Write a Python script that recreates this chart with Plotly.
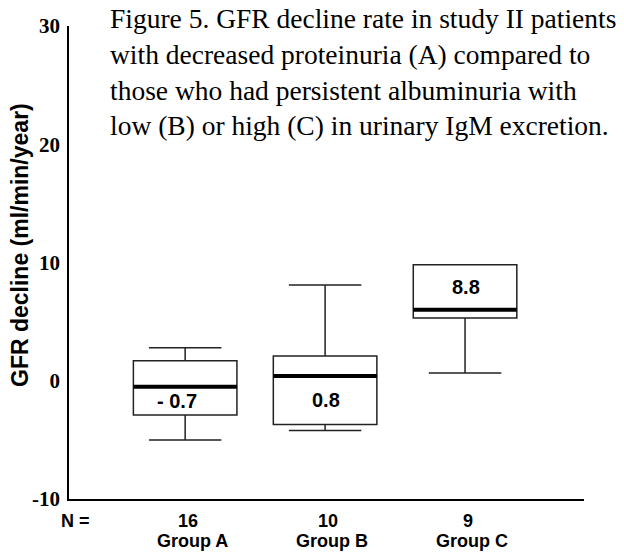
import plotly.graph_objects as go

# ---- data ----
groups = ["Group A", "Group B", "Group C"]
n_counts = ["16", "10", "9"]
lower_whisker = [-5.0, -4.2, 0.65]
q1 = [-2.9, -3.7, 5.3]
median = [-0.5, 0.4, 6.0]
q3 = [1.7, 2.1, 9.8]
upper_whisker = [2.8, 8.1, 9.8]
mean_labels = ["- 0.7", "0.8", "8.8"]
y_ticks = [-10, 0, 10, 20, 30]

W, H = 624, 552
ML, MR, MT, MB = 69, 40, 26, 53
PW, PH = W - ML - MR, H - MT - MB

def px_x(px):
    return (px - ML) / PW

def px_y(py):
    return (H - MB - py) / PH

xs = list(range(len(groups)))
box_w = 0.74
SANS = "Arial, Liberation Sans"
SERIF = "Liberation Serif, Times New Roman"

fig = go.Figure()
fig.add_trace(go.Box(
    x=xs, q1=q1, median=median, q3=q3,
    lowerfence=lower_whisker, upperfence=upper_whisker,
    width=box_w, whiskerwidth=0.7,
    fillcolor="white", line=dict(color="#222222", width=1.5),
    boxpoints=False, showlegend=False, hoverinfo="skip",
))
# thick median bars
for i in xs:
    fig.add_trace(go.Scatter(
        x=[i - box_w / 2, i + box_w / 2], y=[median[i], median[i]],
        mode="lines", line=dict(color="black", width=4),
        showlegend=False, hoverinfo="skip",
    ))

ann = []
# labels inside boxes, centered in the larger half of each box
for i in xs:
    upper = q3[i] - median[i]
    lower = median[i] - q1[i]
    ly = (median[i] + q1[i]) / 2 if lower > upper else (median[i] + q3[i]) / 2
    ann.append(dict(x=i, y=ly, xref="x", yref="y", text=mean_labels[i],
                    showarrow=False, xshift=-8 if i == 0 else 1,
                    xanchor="center", yanchor="middle",
                    font=dict(family=SANS, size=20, color="black", weight="bold")))
# N counts and group names
for i in xs:
    ann.append(dict(x=i, y=px_y(521), xref="x", yref="paper", text=n_counts[i],
                    showarrow=False, xshift=3, xanchor="center", yanchor="middle",
                    font=dict(family=SANS, size=18, color="black", weight="bold")))
    ann.append(dict(x=i, y=px_y(541), xref="x", yref="paper", text=groups[i],
                    showarrow=False, xshift=7, xanchor="center", yanchor="middle",
                    font=dict(family=SANS, size=18, color="black", weight="bold")))
ann.append(dict(x=px_x(75), y=px_y(521), xref="paper", yref="paper", text="N =",
                showarrow=False, xanchor="center", yanchor="middle",
                font=dict(family=SANS, size=18, color="black", weight="bold")))
# y-axis title
ann.append(dict(x=px_x(20), y=px_y(245), xref="paper", yref="paper",
                text="GFR decline (ml/min/year)", textangle=-90, showarrow=False,
                xanchor="center", yanchor="middle",
                font=dict(family=SANS, size=23, color="black", weight="bold")))
# figure caption
ann.append(dict(x=px_x(108), y=px_y(1), xref="paper", yref="paper", xanchor="left", yanchor="top",
                align="left", showarrow=False,
                text="Figure 5. GFR decline rate in study II patients<br>"
                     "with decreased proteinuria (A) compared to<br>"
                     "those who had persistent albuminuria with<br>"
                     "low (B) or high (C) in urinary IgM excretion.",
                font=dict(family=SERIF, size=27.5, color="black")))

fig.update_layout(
    width=W, height=H,
    margin=dict(l=ML, r=MR, t=MT, b=MB),
    paper_bgcolor="white", plot_bgcolor="white",
    annotations=ann,
    xaxis=dict(range=[-0.83, 2.85], showgrid=False, zeroline=False, showticklabels=False,
               showline=True, linecolor="black", linewidth=1.5, ticks=""),
    yaxis=dict(range=[-10, 30], tickvals=y_ticks, ticktext=[str(v) for v in y_ticks],
               showgrid=False, zeroline=False, showline=True, linecolor="black", linewidth=1.5,
               ticks="", ticklabelstandoff=3,
               tickfont=dict(family="Liberation Serif", size=21, color="black", weight="bold")),
)

fig.write_html("out.html", config={"displayModeBar": False},
               post_script="document.body.style.margin='0';")
